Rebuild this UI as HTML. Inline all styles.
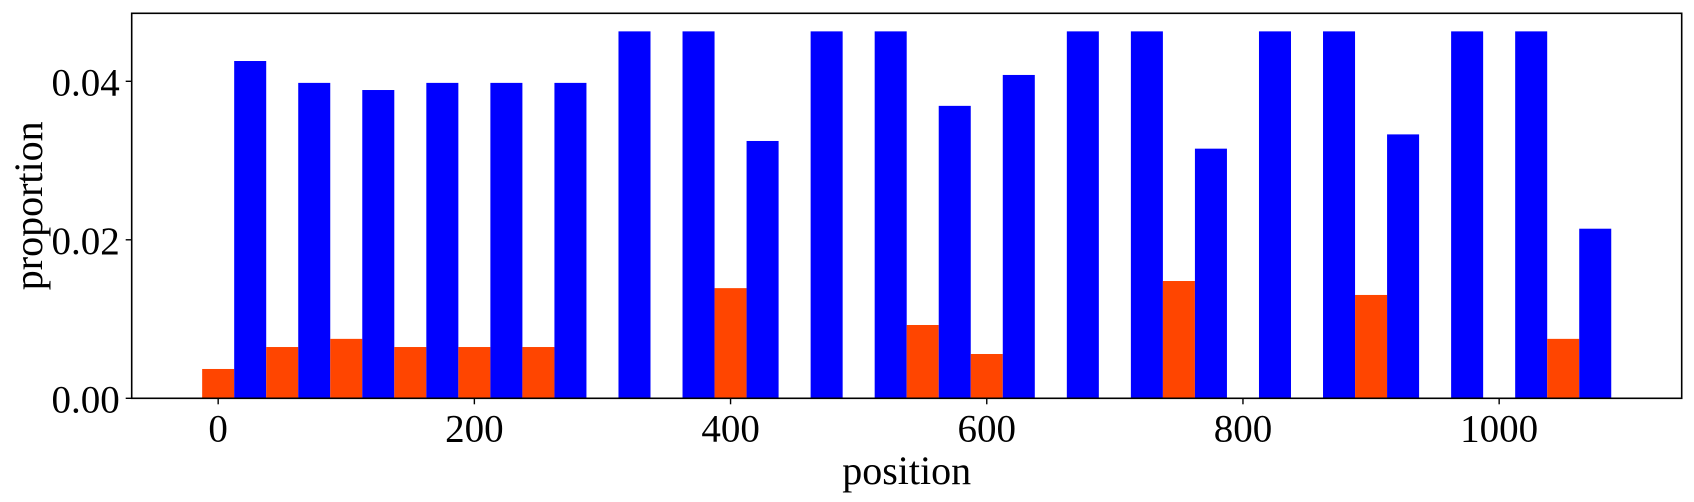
<!DOCTYPE html>
<html><head><meta charset="utf-8">
<style>
html,body{margin:0;padding:0;background:#fff;}
svg text{font-family:"Liberation Serif",serif;fill:#000;}
</style></head>
<body>
<svg id="chart" width="1694" height="497" viewBox="0 0 1694 497" xmlns="http://www.w3.org/2000/svg">
<g id="bars"></g>
<g id="axes"></g>
</svg>
<script>
const positions = [0,50,100,150,200,250,300,350,400,450,500,550,600,650,700,750,800,850,900,950,1000,1050];
const orangeValues = [0.0037,0.00647,0.0075,0.00647,0.00647,0.00647,0,0,0.0139,0,0,0.00925,0.00559,0,0,0.0148,0,0,0.01304,0,0,0.0075];
const blueValues = [0.04256,0.0398,0.0389,0.0398,0.0398,0.0398,0.0463,0.0463,0.03247,0.0463,0.0463,0.0369,0.0408,0.0463,0.0463,0.0315,0.0463,0.0463,0.0333,0.0463,0.0463,0.0214];
const xTicks = [0,200,400,600,800,1000];
const yTicks = [0,0.02,0.04];
const yTickLabels = ["0.00","0.02","0.04"];

const L=131.7,R=1681.7,T=13.3,B=398.3;
const xMin=-67.5,xMax=1142.5,yMin=0,yMax=0.04858,barW=25;
const xs=v=>L+(v-xMin)/(xMax-xMin)*(R-L);
const ys=v=>B-(v-yMin)/(yMax-yMin)*(B-T);
const NS="http://www.w3.org/2000/svg";
const bars=document.getElementById('bars'), axes=document.getElementById('axes');
function mk(tag,attrs,parent){const e=document.createElementNS(NS,tag);for(const k in attrs)e.setAttribute(k,attrs[k]);parent.appendChild(e);return e;}

positions.forEach((p,i)=>{
  const o=mk('rect',{x:xs(p-barW/2),y:ys(orangeValues[i]),width:xs(p+barW/2)-xs(p-barW/2),height:ys(0)-ys(orangeValues[i]),fill:'#ff4500'},bars);
  
  
  const b=mk('rect',{x:xs(p+barW/2),y:ys(blueValues[i]),width:xs(p+1.5*barW)-xs(p+barW/2),height:ys(0)-ys(blueValues[i]),fill:'#0000ff'},bars);
  
  
});

const frame=mk('rect',{x:L,y:T,width:R-L,height:B-T,fill:'none',stroke:'#000','stroke-width':1.6},axes);



xTicks.forEach(t=>{
  const x=xs(t);
  const tk=mk('line',{x1:x,x2:x,y1:B,y2:B+6,stroke:'#000','stroke-width':1.4},axes);
  
  
  const tx=mk('text',{x:x,y:B+43,'text-anchor':'middle','font-size':39},axes);
  tx.textContent=t;
  
  
});
yTicks.forEach((t,i)=>{
  const y=ys(t);
  const tk=mk('line',{x1:L-6,x2:L,y1:y,y2:y,stroke:'#000','stroke-width':1.4},axes);
  
  
  const tx=mk('text',{x:L-12,y:y+14,'text-anchor':'end','font-size':39},axes);
  tx.textContent=yTickLabels[i];
  
  
});
const xl=mk('text',{x:(L+R)/2,y:484,'text-anchor':'middle','font-size':40},axes);
xl.textContent='position';


const yl=mk('text',{x:0,y:0,'text-anchor':'middle','font-size':40,transform:'translate(42,'+((T+B)/2)+') rotate(-90)'},axes);
yl.textContent='proportion';


</script>
</body></html>
